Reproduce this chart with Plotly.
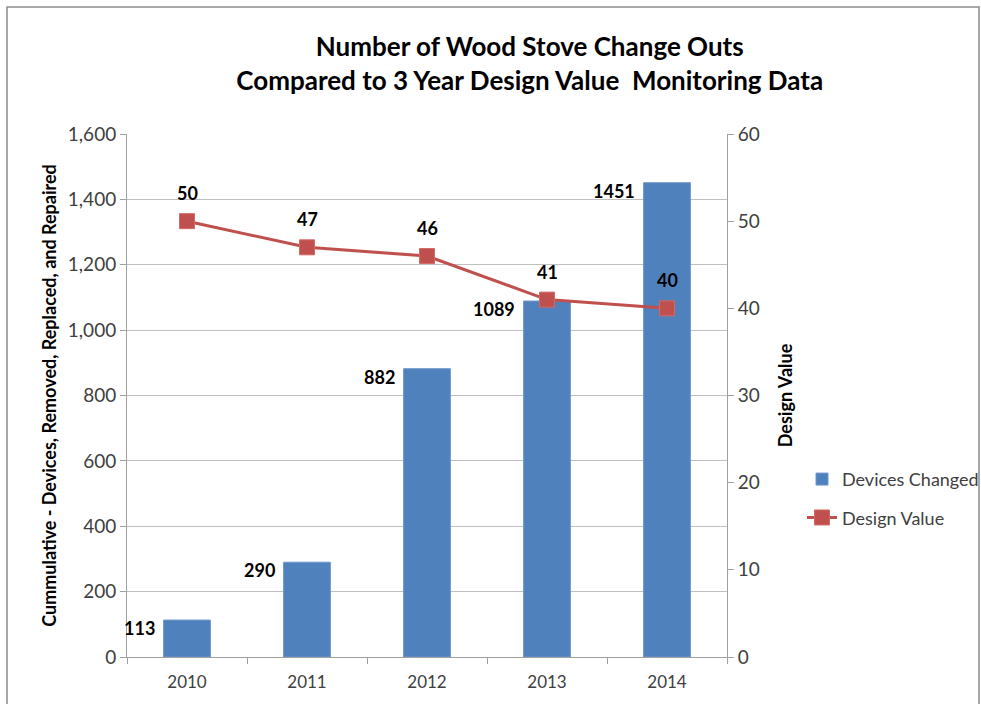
import plotly.graph_objects as go

years = ["2010", "2011", "2012", "2013", "2014"]
devices_changed = [113, 290, 882, 1089, 1451]
design_value = [50, 47, 46, 41, 40]
left_ticks = [0, 200, 400, 600, 800, 1000, 1200, 1400, 1600]
right_ticks = [0, 10, 20, 30, 40, 50, 60]

FONT = "Lato, Open Sans, sans-serif"
BAR = "#4F81BD"
LINE = "#C0504D"

fig = go.Figure()
fig.add_trace(go.Bar(
    x=years, y=devices_changed, name="Devices Changed", legendgroup="a",
    marker=dict(color=BAR, line=dict(color="#6E97CB", width=1)),
    width=0.39,
))
fig.add_trace(go.Scatter(
    x=years, y=design_value, name="Design Value", yaxis="y2", legendgroup="b",
    mode="lines+markers",
    line=dict(color=LINE, width=3),
    marker=dict(symbol="square", size=15, color=LINE, line=dict(color="#D46A66", width=1)),
))

annotations = []
for i, v in enumerate(devices_changed):
    annotations.append(dict(x=i, y=v, xref="x", yref="y", text=str(v), showarrow=False,
                            xanchor="right", yanchor="middle", xshift=-30, yshift=-8,
                            font=dict(family=FONT, size=18, color="#000000", weight="bold")))
for i, v in enumerate(design_value):
    annotations.append(dict(x=i, y=v, xref="x", yref="y2", text=str(v), showarrow=False,
                            xanchor="center", yanchor="middle", yshift=28,
                            font=dict(family=FONT, size=18, color="#000000", weight="bold")))

fig.update_layout(
    width=981, height=704,
    margin=dict(l=127, r=254, t=134, b=47, autoexpand=False),
    paper_bgcolor="white", plot_bgcolor="white",
    font=dict(family=FONT, color="#404040"),
    title=dict(
        text="Number of Wood Stove Change Outs<br>Compared to 3 Year Design Value  Monitoring Data",
        x=0.54, xanchor="center", y=0.92, yanchor="top",
        font=dict(family=FONT, size=26, color="#000000", weight="bold"),
    ),
    xaxis=dict(
        type="category", range=[-0.5, 4.5], showgrid=False, showline=True, linecolor="#A0A0A0", linewidth=1,
        ticks="outside", tickson="boundaries", ticklen=6, tickcolor="#A0A0A0",
        ticklabelstandoff=10, automargin=False,
        tickfont=dict(family=FONT, size=17, color="#404040"),
    ),
    yaxis=dict(
        range=[0, 1600], tickvals=left_ticks, tickformat=",d", automargin=False,
        showgrid=True, gridcolor="#BFBFBF", gridwidth=1,
        showline=True, linecolor="#A0A0A0", ticks="outside", ticklen=6, tickcolor="#A0A0A0",
        tickfont=dict(family=FONT, size=19, color="#404040"),
        zeroline=False,
        title=dict(text="Cummulative - Devices, Removed, Replaced, and Repaired",
                   font=dict(family=FONT, size=18, color="#000000", weight="bold"), standoff=6),
    ),
    yaxis2=dict(
        range=[0, 60], tickvals=right_ticks, overlaying="y", side="right", automargin=False,
        showgrid=False, showline=True, linecolor="#A0A0A0", ticks="outside", ticklen=6,
        tickcolor="#A0A0A0", zeroline=False,
        tickfont=dict(family=FONT, size=19, color="#404040"),
        title=dict(text="Design Value",
                   font=dict(family=FONT, size=18, color="#000000", weight="bold"), standoff=20),
    ),
    legend=dict(x=1.125, y=0.375, xanchor="left", yanchor="top",
                font=dict(family=FONT, size=18, color="#404040"),
                bgcolor="rgba(0,0,0,0)", tracegroupgap=12),
    annotations=annotations,
    showlegend=True,
    shapes=[dict(type="rect", xref="paper", yref="paper", x0=-0.2, x1=1.42, y0=-0.12, y1=1.243,
                 line=dict(color="#8C8C8C", width=1.5), fillcolor="rgba(0,0,0,0)", layer="below")],
    bargap=0.6,
)

fig.write_html("out.html")
